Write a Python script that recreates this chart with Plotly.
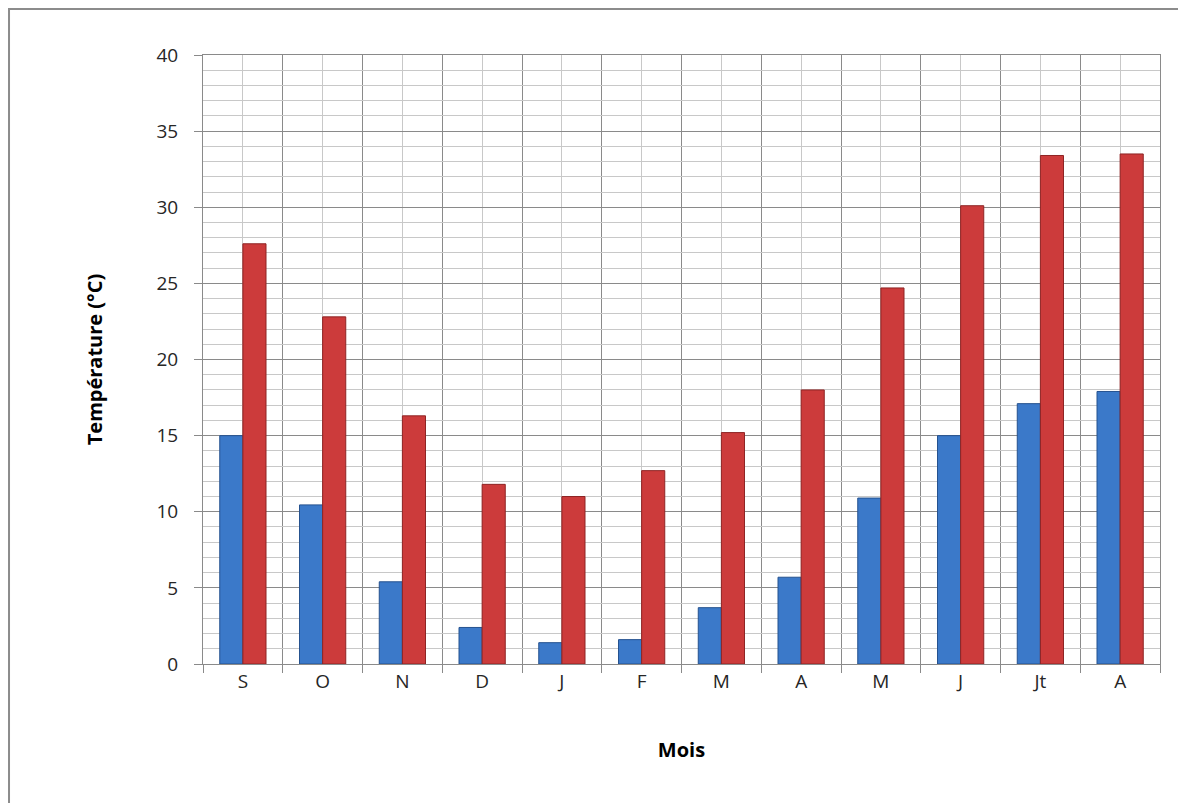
import plotly.graph_objects as go

# Monthly temperatures (°C), September to August
mois = ["S", "O", "N", "D", "J", "F", "M", "A", "M", "J", "Jt", "A"]
t_min = [15.0, 10.45, 5.4, 2.4, 1.4, 1.6, 3.7, 5.7, 10.9, 15.0, 17.1, 17.9]
t_max = [27.6, 22.8, 16.3, 11.8, 11.0, 12.7, 15.2, 18.0, 24.7, 30.1, 33.4, 33.5]

y_ticks = [0, 5, 10, 15, 20, 25, 30, 35, 40]

pos = list(range(len(mois)))
bounds = [i - 0.5 for i in range(len(mois) + 1)]

FONT = "Open Sans"
MAJOR = "#8a8a8a"
MINOR = "#c8c8c8"
TEXT = "#262626"

fig = go.Figure()
fig.add_trace(go.Bar(
    x=pos, y=t_min, name="Tmin",
    marker=dict(color="#3b79c9", line=dict(color="#25528f", width=1)),
))
fig.add_trace(go.Bar(
    x=pos, y=t_max, name="Tmax",
    marker=dict(color="#cc3b3b", line=dict(color="#8e2424", width=1)),
))

fig.update_layout(
    width=1178, height=803,
    margin=dict(l=203, r=18, t=55, b=139),
    paper_bgcolor="white", plot_bgcolor="white",
    barmode="group", bargap=0.42, bargroupgap=0,
    showlegend=False,
    font=dict(family=FONT, color=TEXT, size=19),
)

fig.update_xaxes(
    range=[-0.5, len(mois) - 0.5],
    tickmode="array", tickvals=pos, ticktext=mois,
    ticks="", showgrid=True, gridcolor=MINOR, gridwidth=1,
    minor=dict(tickmode="array", tickvals=bounds, ticks="outside",
               ticklen=8, tickcolor=MAJOR, showgrid=True,
               gridcolor=MAJOR, gridwidth=1),
    showline=True, linecolor=MAJOR, linewidth=1, mirror=True,
    zeroline=False,
    tickfont=dict(size=19, family=FONT, color=TEXT),
    title=dict(text="<b>Mois</b>", font=dict(size=20, family=FONT, color="#000"),
               standoff=50),
)

fig.update_yaxes(
    range=[0, 40],
    tickmode="array", tickvals=y_ticks,
    ticks="outside", ticklen=8, tickcolor=MAJOR,
    ticklabelstandoff=12,
    showgrid=True, gridcolor=MAJOR, gridwidth=1,
    minor=dict(dtick=1, tick0=0, showgrid=True, gridcolor=MINOR,
               gridwidth=1, ticks=""),
    showline=True, linecolor=MAJOR, linewidth=1, mirror=True,
    zeroline=False,
    tickfont=dict(size=19, family=FONT, color=TEXT),
    title=dict(text="<b>Température (°C)</b>",
               font=dict(size=20, family=FONT, color="#000"), standoff=48),
)

# Outer frame of the chart
fig.add_shape(type="rect", xref="paper", yref="paper",
              x0=-0.2027, x1=1.2, y0=-0.5, y1=1.0755,
              line=dict(color="#8c8c8c", width=2), layer="below")

fig.write_html("out.html")
